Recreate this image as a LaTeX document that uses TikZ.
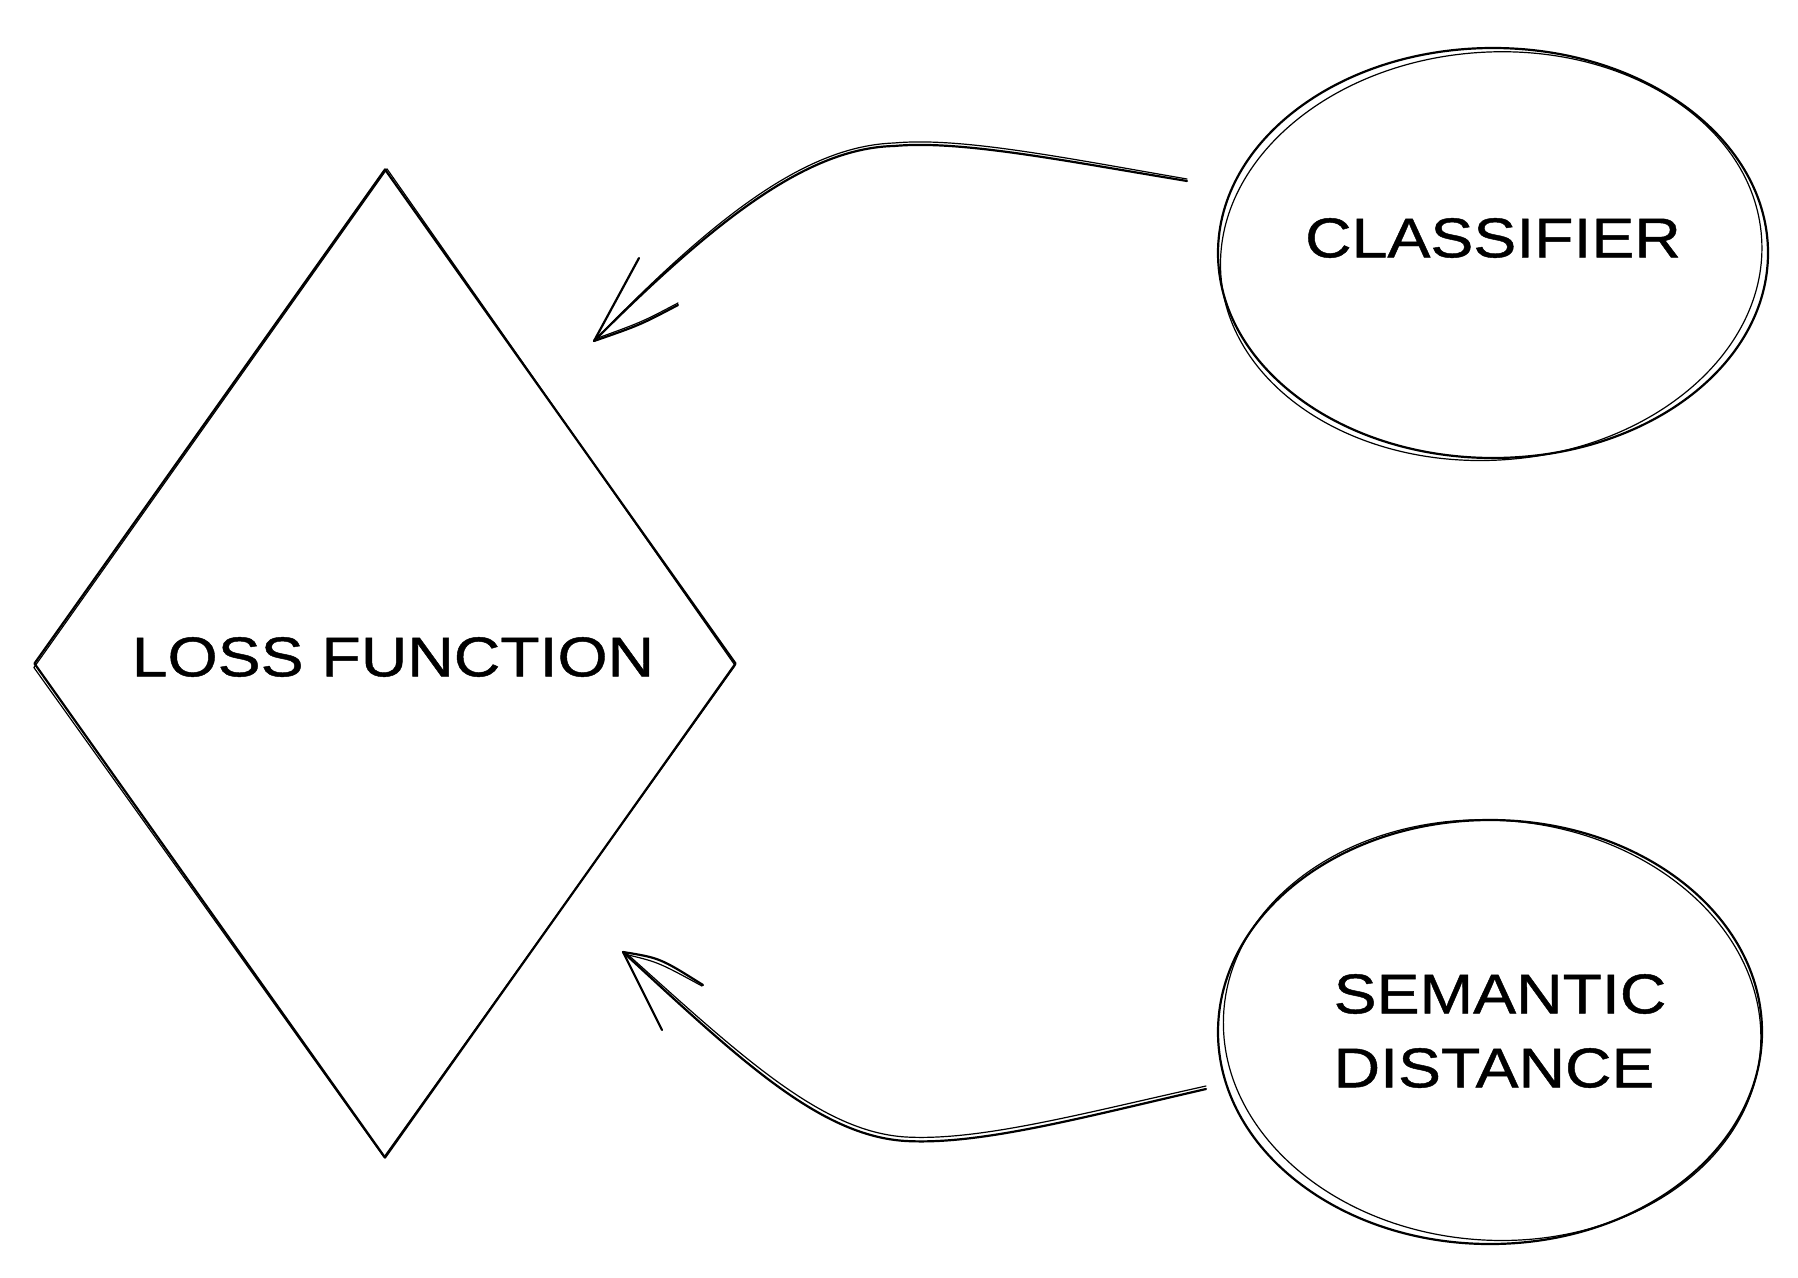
\documentclass[tikz,border=0pt]{standalone}
\usepackage{fontspec}
\newfontfamily\hand[FakeStretch=1.15,FakeBold=0.8]{Liberation Sans}
\usetikzlibrary{shapes.geometric,calc}
\begin{document}
\begin{tikzpicture}[x=1pt,y=-1pt,
  sk/.style={draw=black,line width=2.2pt,line cap=round,line join=round},
  sk2/.style={draw=black,line width=1.2pt,line cap=round,line join=round},
  lbl/.style={font=\hand\fontsize{56}{74}\selectfont,inner sep=0pt}]
\useasboundingbox[fill=white] (0,0) rectangle (1798,1277);

% loss function diamond
\node[diamond,sk,minimum width=702pt,minimum height=989pt,inner sep=0pt] (loss) at (385,663.5) {};
\draw[sk2] ($(loss.north)+(2,1)$) -- ($(loss.west)+(1,4)$) -- ($(loss.south)+(-1,-2)$) -- ($(loss.east)+(-2,2)$) -- cycle;
\node[lbl] (losst) at (393,657) {LOSS FUNCTION};

% classifier ellipse
\node[ellipse,sk,minimum width=550pt,minimum height=410pt,inner sep=0pt] (cls) at (1493,253) {};
\draw[sk2,rotate around={4:(cls.center)}] ($(cls.center)+(-2,3)$) ellipse [x radius=271pt, y radius=204pt];
\node[lbl] (clst) at (1493,238) {CLASSIFIER};

% semantic distance ellipse
\node[ellipse,sk,minimum width=544pt,minimum height=424pt,inner sep=0pt] (sem) at (1490,1032) {};
\draw[sk2,rotate around={-4:(sem.center)}] ($(sem.center)+(2,-2)$) ellipse [x radius=269pt, y radius=210pt];
\node[lbl,align=left] (semt) at (1500,1031) {SEMANTIC\\DISTANCE};

% arrow 1: classifier -> loss
\coordinate (a1s) at (1187,181);
\coordinate (a1t) at (594,341);
\coordinate (a1b1) at (639,258);
\coordinate (a1b2) at (678,305);
\draw[sk] (a1s) .. controls (1060,160) and (960,140) .. (894,146) .. controls (810,148) and (720,215) .. (a1t);
\draw[sk2] ($(a1s)+(0,-2)$) .. controls (1060,157) and (960,137) .. (894,143) .. controls (808,146) and (718,213) .. ($(a1t)+(1,-1)$);
\draw[sk] (a1t) -- (a1b1);
\draw[sk] (a1t) .. controls (640,325) .. (a1b2);
\draw[sk2] ($(a1t)+(1,-2)$) .. controls (642,322) .. ($(a1b2)+(0,-2)$);

% arrow 2: semantic distance -> loss
\coordinate (a2s) at (1206,1089);
\coordinate (a2t) at (623,952);
\coordinate (a2b1) at (662,1030);
\coordinate (a2b2) at (703,985);
\draw[sk] (a2s) .. controls (1080,1118) and (980,1145) .. (906,1141) .. controls (820,1136) and (740,1060) .. (a2t);
\draw[sk2] ($(a2s)+(0,-3)$) .. controls (1080,1114) and (980,1141) .. (906,1137) .. controls (822,1132) and (742,1057) .. ($(a2t)+(2,0)$);
\draw[sk] (a2t) -- (a2b1);
\draw[sk] (a2t) .. controls (660,958) .. (a2b2);
\draw[sk2] ($(a2t)+(1,2)$) .. controls (658,962) .. ($(a2b2)+(-1,1)$);
\end{tikzpicture}
\end{document}
